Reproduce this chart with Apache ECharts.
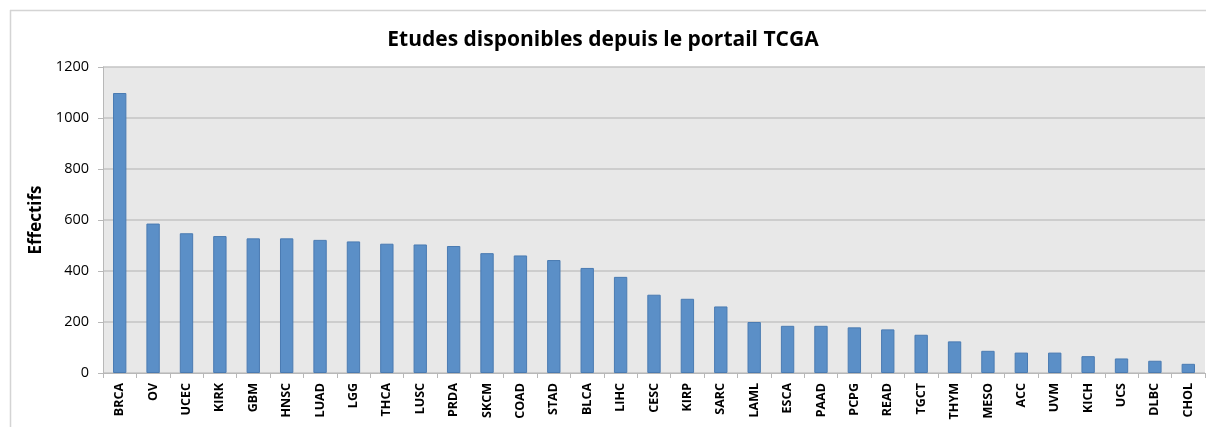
<!DOCTYPE html>
<html><head><meta charset="utf-8">
<script src="https://cdn.jsdelivr.net/npm/echarts@6/dist/echarts.min.js"></script>
<style>html,body{margin:0;padding:0;background:#fff}#c{width:1206px;height:427px}</style>
</head><body><div id="c"></div>
<script>
const categories = ["BRCA","OV","UCEC","KIRK","GBM","HNSC","LUAD","LGG","THCA","LUSC","PRDA","SKCM","COAD","STAD","BLCA","LIHC","CESC","KIRP","SARC","LAML","ESCA","PAAD","PCPG","READ","TGCT","THYM","MESO","ACC","UVM","KICH","UCS","DLBC","CHOL"];
const effectifs = [1098,586,548,537,528,528,522,516,507,504,498,470,461,443,412,377,307,291,261,200,185,185,179,171,150,124,87,80,80,66,57,48,36];
const yTicks = [0,200,400,600,800,1000,1200];
const title = "Etudes disponibles depuis le portail TCGA";
const yName = "Effectifs";

const chart = echarts.init(document.getElementById('c'), null, {renderer:'canvas'});
const frameStyle = {stroke:'#d4d4d4',lineWidth:1.5};
chart.setOption({
  animation:false,
  backgroundColor:'#fff',
  graphic:[
    {type:'line',position:[0,0],shape:{x1:10,y1:10.5,x2:1206,y2:10.5},style:frameStyle,silent:true,z:-1},
    {type:'line',position:[0,0],shape:{x1:10.5,y1:10,x2:10.5,y2:427},style:frameStyle,silent:true,z:-1}
  ],
  title:{text:title,left:'center',top:25,textStyle:{fontFamily:'Open Sans',fontWeight:'bold',fontSize:21,color:'#000'}},
  grid:{left:103,top:67,right:1,bottom:54,show:true,backgroundColor:'#e8e8e8',borderWidth:0,containLabel:false},
  xAxis:{type:'category',data:categories,
    axisLine:{show:true,lineStyle:{color:'#b8b8b8',width:1}},
    axisTick:{show:true,length:5,lineStyle:{color:'#b8b8b8'}},
    axisLabel:{rotate:90,interval:0,margin:10,fontFamily:'Open Sans',fontWeight:'bold',fontSize:12.5,color:'#000'},
    splitLine:{show:false}},
  yAxis:{type:'value',min:yTicks[0],max:yTicks[yTicks.length-1],interval:200,
    name:yName,nameLocation:'middle',nameGap:56,nameRotate:90,
    nameTextStyle:{fontFamily:'Open Sans',fontWeight:'bold',fontSize:17,color:'#000'},
    axisLine:{show:true,lineStyle:{color:'#b8b8b8',width:1}},
    axisTick:{show:true,length:5,lineStyle:{color:'#b8b8b8'}},
    axisLabel:{margin:14,fontFamily:'Open Sans',fontSize:14.5,color:'#000',formatter:v=>String(v)},
    splitLine:{show:true,lineStyle:{color:'#c4c4c4',width:1.5}}},
  series:[{type:'bar',data:effectifs,barCategoryGap:'60%',
    itemStyle:{color:'#5b8fc7',borderColor:'#4a7bb2',borderWidth:1}}]
});
</script></body></html>
